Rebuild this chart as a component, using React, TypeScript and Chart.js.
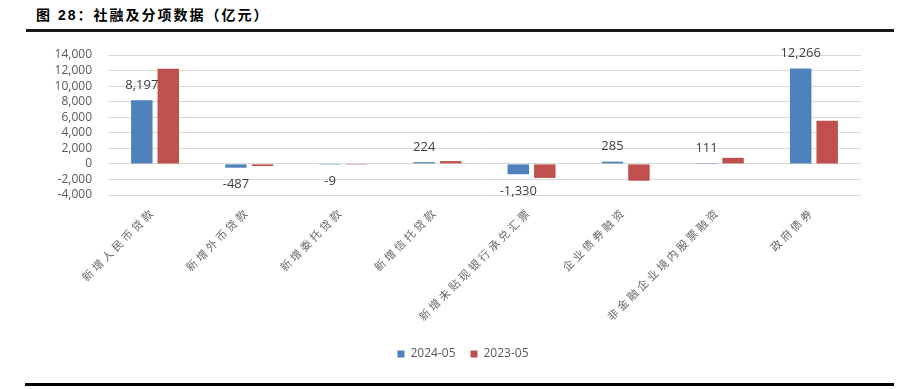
import React, { useEffect, useRef } from "react";
import { Chart, registerables } from "chart.js";
Chart.register(...registerables);

const titleText = "图 28：社融及分项数据（亿元）";
const categories = [
  "新增人民币贷款",
  "新增外币贷款",
  "新增委托贷款",
  "新增信托贷款",
  "新增未贴现银行承兑汇票",
  "企业债券融资",
  "非金融企业境内股票融资",
  "政府债券",
];
const seriesNames = ["2024-05", "2023-05"];
const values2024 = [8197, -487, -9, 224, -1330, 285, 111, 12266];
const values2023 = [12219, -269, -14, 360, -1800, -2162, 779, 5548];
const yMin = -4000;
const yMax = 14000;
const yStep = 2000;

const fmt = (v: number) => Number(v).toLocaleString("en-US");

const dataLabelPlugin = {
  id: "dataLabels",
  afterDatasetsDraw(chart: any) {
    const ctx = chart.ctx;
    const meta = chart.getDatasetMeta(0);
    const data = chart.data.datasets[0].data as number[];
    ctx.save();
    ctx.font = "13px 'Open Sans'";
    ctx.fillStyle = "#404040";
    ctx.textAlign = "center";
    ctx.textBaseline = "middle";
    meta.data.forEach((bar: any, i: number) => {
      const v = data[i];
      const y = v >= 0 ? bar.y - 15 : bar.y + 17;
      ctx.fillText(fmt(v), bar.x, y);
    });
    ctx.restore();
    // letter spacing for the category labels, drawn next (x ticks z = 1)
    ctx.letterSpacing = "3px";
  },
  afterDraw(chart: any) {
    chart.ctx.letterSpacing = "0px";
  },
};

export default function App() {
  const ref = useRef<HTMLCanvasElement | null>(null);
  useEffect(() => {
    if (!ref.current) return;
    const chart = new Chart(ref.current, {
      type: "bar",
      data: {
        labels: categories,
        datasets: [
          {
            label: seriesNames[0],
            data: values2024,
            backgroundColor: "#4F81BD",
            categoryPercentage: 0.563,
            barPercentage: 0.81,
            yAxisID: "y",
          },
          {
            label: seriesNames[1],
            data: values2023,
            backgroundColor: "#C0504D",
            categoryPercentage: 0.563,
            barPercentage: 0.81,
            yAxisID: "y",
          },
        ],
      },
      options: {
        responsive: false,
        animation: false,
        devicePixelRatio: 1,
        layout: { padding: { left: 30, right: 4, top: 55, bottom: 19 } },
        plugins: {
          tooltip: { enabled: false },
          title: { display: false },
          legend: {
            position: "bottom",
            labels: {
              boxWidth: 7,
              boxHeight: 7,
              padding: 15,
              color: "#595959",
              font: { size: 12, family: "'Open Sans'" },
            },
          },
        },
        scales: {
          x: {
            grid: { display: false },
            border: { display: false },
            ticks: {
              autoSkip: false,
              minRotation: 45,
              maxRotation: 45,
              padding: 2,
              labelOffset: -2,
              z: 1,
              color: "#666666",
              font: { size: 11, family: "'Noto Sans CJK SC'" },
            },
            afterFit(scale: any) {
              scale.height = 138;
            },
          },
          y: {
            position: "left",
            min: yMin,
            max: yMax,
            grid: { color: "#d9d9d9", lineWidth: 1, drawTicks: false },
            border: { display: false },
            ticks: {
              autoSkip: false,
              stepSize: yStep,
              padding: 16,
              color: "#595959",
              font: { size: 12, family: "'Open Sans'" },
              callback: (v: any) => fmt(v),
            },
            afterFit(scale: any) {
              scale.width = 78;
            },
          },
          y2: {
            position: "right",
            display: true,
            grid: { display: false, drawTicks: false },
            border: { display: false },
            ticks: { display: false },
            afterFit(scale: any) {
              scale.width = 35;
            },
          },
        },
      },
      plugins: [dataLabelPlugin],
    });
    return () => chart.destroy();
  }, []);

  return (
    <div
      style={{
        position: "fixed",
        left: 0,
        top: 0,
        width: 900,
        height: 389,
        background: "#fff",
        overflow: "hidden",
      }}
    >
      <div
        style={{
          position: "absolute",
          left: 36,
          top: 6,
          fontFamily: "'Liberation Sans', 'Noto Sans CJK SC', sans-serif",
          fontWeight: "bold",
          fontSize: 14,
          letterSpacing: 2,
          color: "#000",
          whiteSpace: "nowrap",
          lineHeight: "18px",
        }}
      >
        {titleText}
      </div>
      <div
        style={{
          position: "absolute",
          left: 26,
          top: 29,
          width: 868,
          height: 3,
          background: "#1a1a1a",
        }}
      />
      <canvas
        ref={ref}
        width={900}
        height={389}
        style={{ position: "absolute", left: 0, top: 0, width: 900, height: 389 }}
      />
      <div
        style={{
          position: "absolute",
          left: 25,
          top: 383,
          width: 869,
          height: 3,
          background: "#000",
        }}
      />
    </div>
  );
}
